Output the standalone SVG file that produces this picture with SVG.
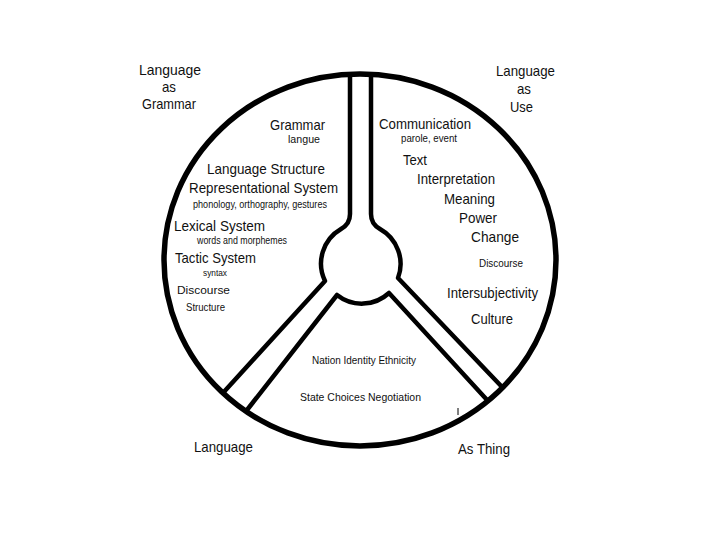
<svg xmlns="http://www.w3.org/2000/svg" width="720" height="540" viewBox="0 0 720 540">
<style>
.ln{fill:none;stroke:#000;stroke-width:4.5;stroke-linejoin:round;stroke-linecap:butt}
.rim{fill:none;stroke:#000;stroke-width:5.5}
text{font-family:"Liberation Sans",Arial,sans-serif;fill:#111}
.l{font-size:15px}
.s{font-size:10px}
.xs{font-size:9px}
.m{font-size:11px}
</style>
<rect width="720" height="540" fill="#fff"/>
<g id="connectors">
<path class="ln" d="M350 74 L350 214 Q350 224 341 229 A40 40 0 0 0 325 281 L222 394 M247 410 L337 295 A40 40 0 0 0 389 293 L488 401 M503 388 L398 278 A40 40 0 0 0 380 229 Q371 224 371 214 L371 74"/>
<ellipse class="rim" cx="360" cy="260" rx="196" ry="186"/>
<line x1="458" y1="408" x2="458" y2="415" stroke="#000" stroke-width="1"/>
</g>
<g id="language-as-grammar">
<text class="l" x="139" y="75" textLength="62" lengthAdjust="spacingAndGlyphs">Language</text>
<text class="l" x="162" y="92" textLength="14" lengthAdjust="spacingAndGlyphs">as</text>
<text class="l" x="142" y="109" textLength="54" lengthAdjust="spacingAndGlyphs">Grammar</text>
</g>
<g id="language-as-use">
<text class="l" x="496" y="76" textLength="59" lengthAdjust="spacingAndGlyphs">Language</text>
<text class="l" x="517" y="94" textLength="14" lengthAdjust="spacingAndGlyphs">as</text>
<text class="l" x="510" y="112" textLength="23" lengthAdjust="spacingAndGlyphs">Use</text>
</g>
<g id="grammar-sector">
<text class="l" x="270" y="130" textLength="55" lengthAdjust="spacingAndGlyphs">Grammar</text>
<text class="s" x="288" y="143" textLength="32" lengthAdjust="spacingAndGlyphs">langue</text>
<text class="l" x="207" y="174" textLength="118" lengthAdjust="spacingAndGlyphs">Language Structure</text>
<text class="l" x="189" y="193" textLength="149" lengthAdjust="spacingAndGlyphs">Representational System</text>
<text class="s" x="193" y="208" textLength="134" lengthAdjust="spacingAndGlyphs">phonology, orthography, gestures</text>
<text class="l" x="174" y="231" textLength="91" lengthAdjust="spacingAndGlyphs">Lexical System</text>
<text class="s" x="197" y="244" textLength="90" lengthAdjust="spacingAndGlyphs">words and morphemes</text>
<text class="l" x="175" y="263" textLength="81" lengthAdjust="spacingAndGlyphs">Tactic System</text>
<text class="xs" x="203" y="276" textLength="24" lengthAdjust="spacingAndGlyphs">syntax</text>
<text class="m" x="177" y="294" textLength="53" lengthAdjust="spacingAndGlyphs">Discourse</text>
<text class="m" x="186" y="311" textLength="39" lengthAdjust="spacingAndGlyphs">Structure</text>
</g>
<g id="use-sector">
<text class="l" x="379" y="129" textLength="92" lengthAdjust="spacingAndGlyphs">Communication</text>
<text class="s" x="401" y="142" textLength="56" lengthAdjust="spacingAndGlyphs">parole, event</text>
<text class="l" x="403" y="165" textLength="24" lengthAdjust="spacingAndGlyphs">Text</text>
<text class="l" x="417" y="184" textLength="78" lengthAdjust="spacingAndGlyphs">Interpretation</text>
<text class="l" x="444" y="204" textLength="51" lengthAdjust="spacingAndGlyphs">Meaning</text>
<text class="l" x="459" y="223" textLength="38" lengthAdjust="spacingAndGlyphs">Power</text>
<text class="l" x="471" y="242" textLength="48" lengthAdjust="spacingAndGlyphs">Change</text>
<text class="s" x="479" y="267" textLength="44" lengthAdjust="spacingAndGlyphs">Discourse</text>
<text class="l" x="447" y="298" textLength="91" lengthAdjust="spacingAndGlyphs">Intersubjectivity</text>
<text class="l" x="471" y="324" textLength="42" lengthAdjust="spacingAndGlyphs">Culture</text>
</g>
<g id="thing-sector">
<text class="m" x="312" y="364" textLength="104" lengthAdjust="spacingAndGlyphs">Nation  Identity  Ethnicity</text>
<text class="m" x="300" y="401" textLength="121" lengthAdjust="spacingAndGlyphs">State   Choices   Negotiation</text>
</g>
<g id="language-as-thing">
<text class="l" x="194" y="452" textLength="59" lengthAdjust="spacingAndGlyphs">Language</text>
<text class="l" x="458" y="454" textLength="52" lengthAdjust="spacingAndGlyphs">As Thing</text>
</g>
</svg>
